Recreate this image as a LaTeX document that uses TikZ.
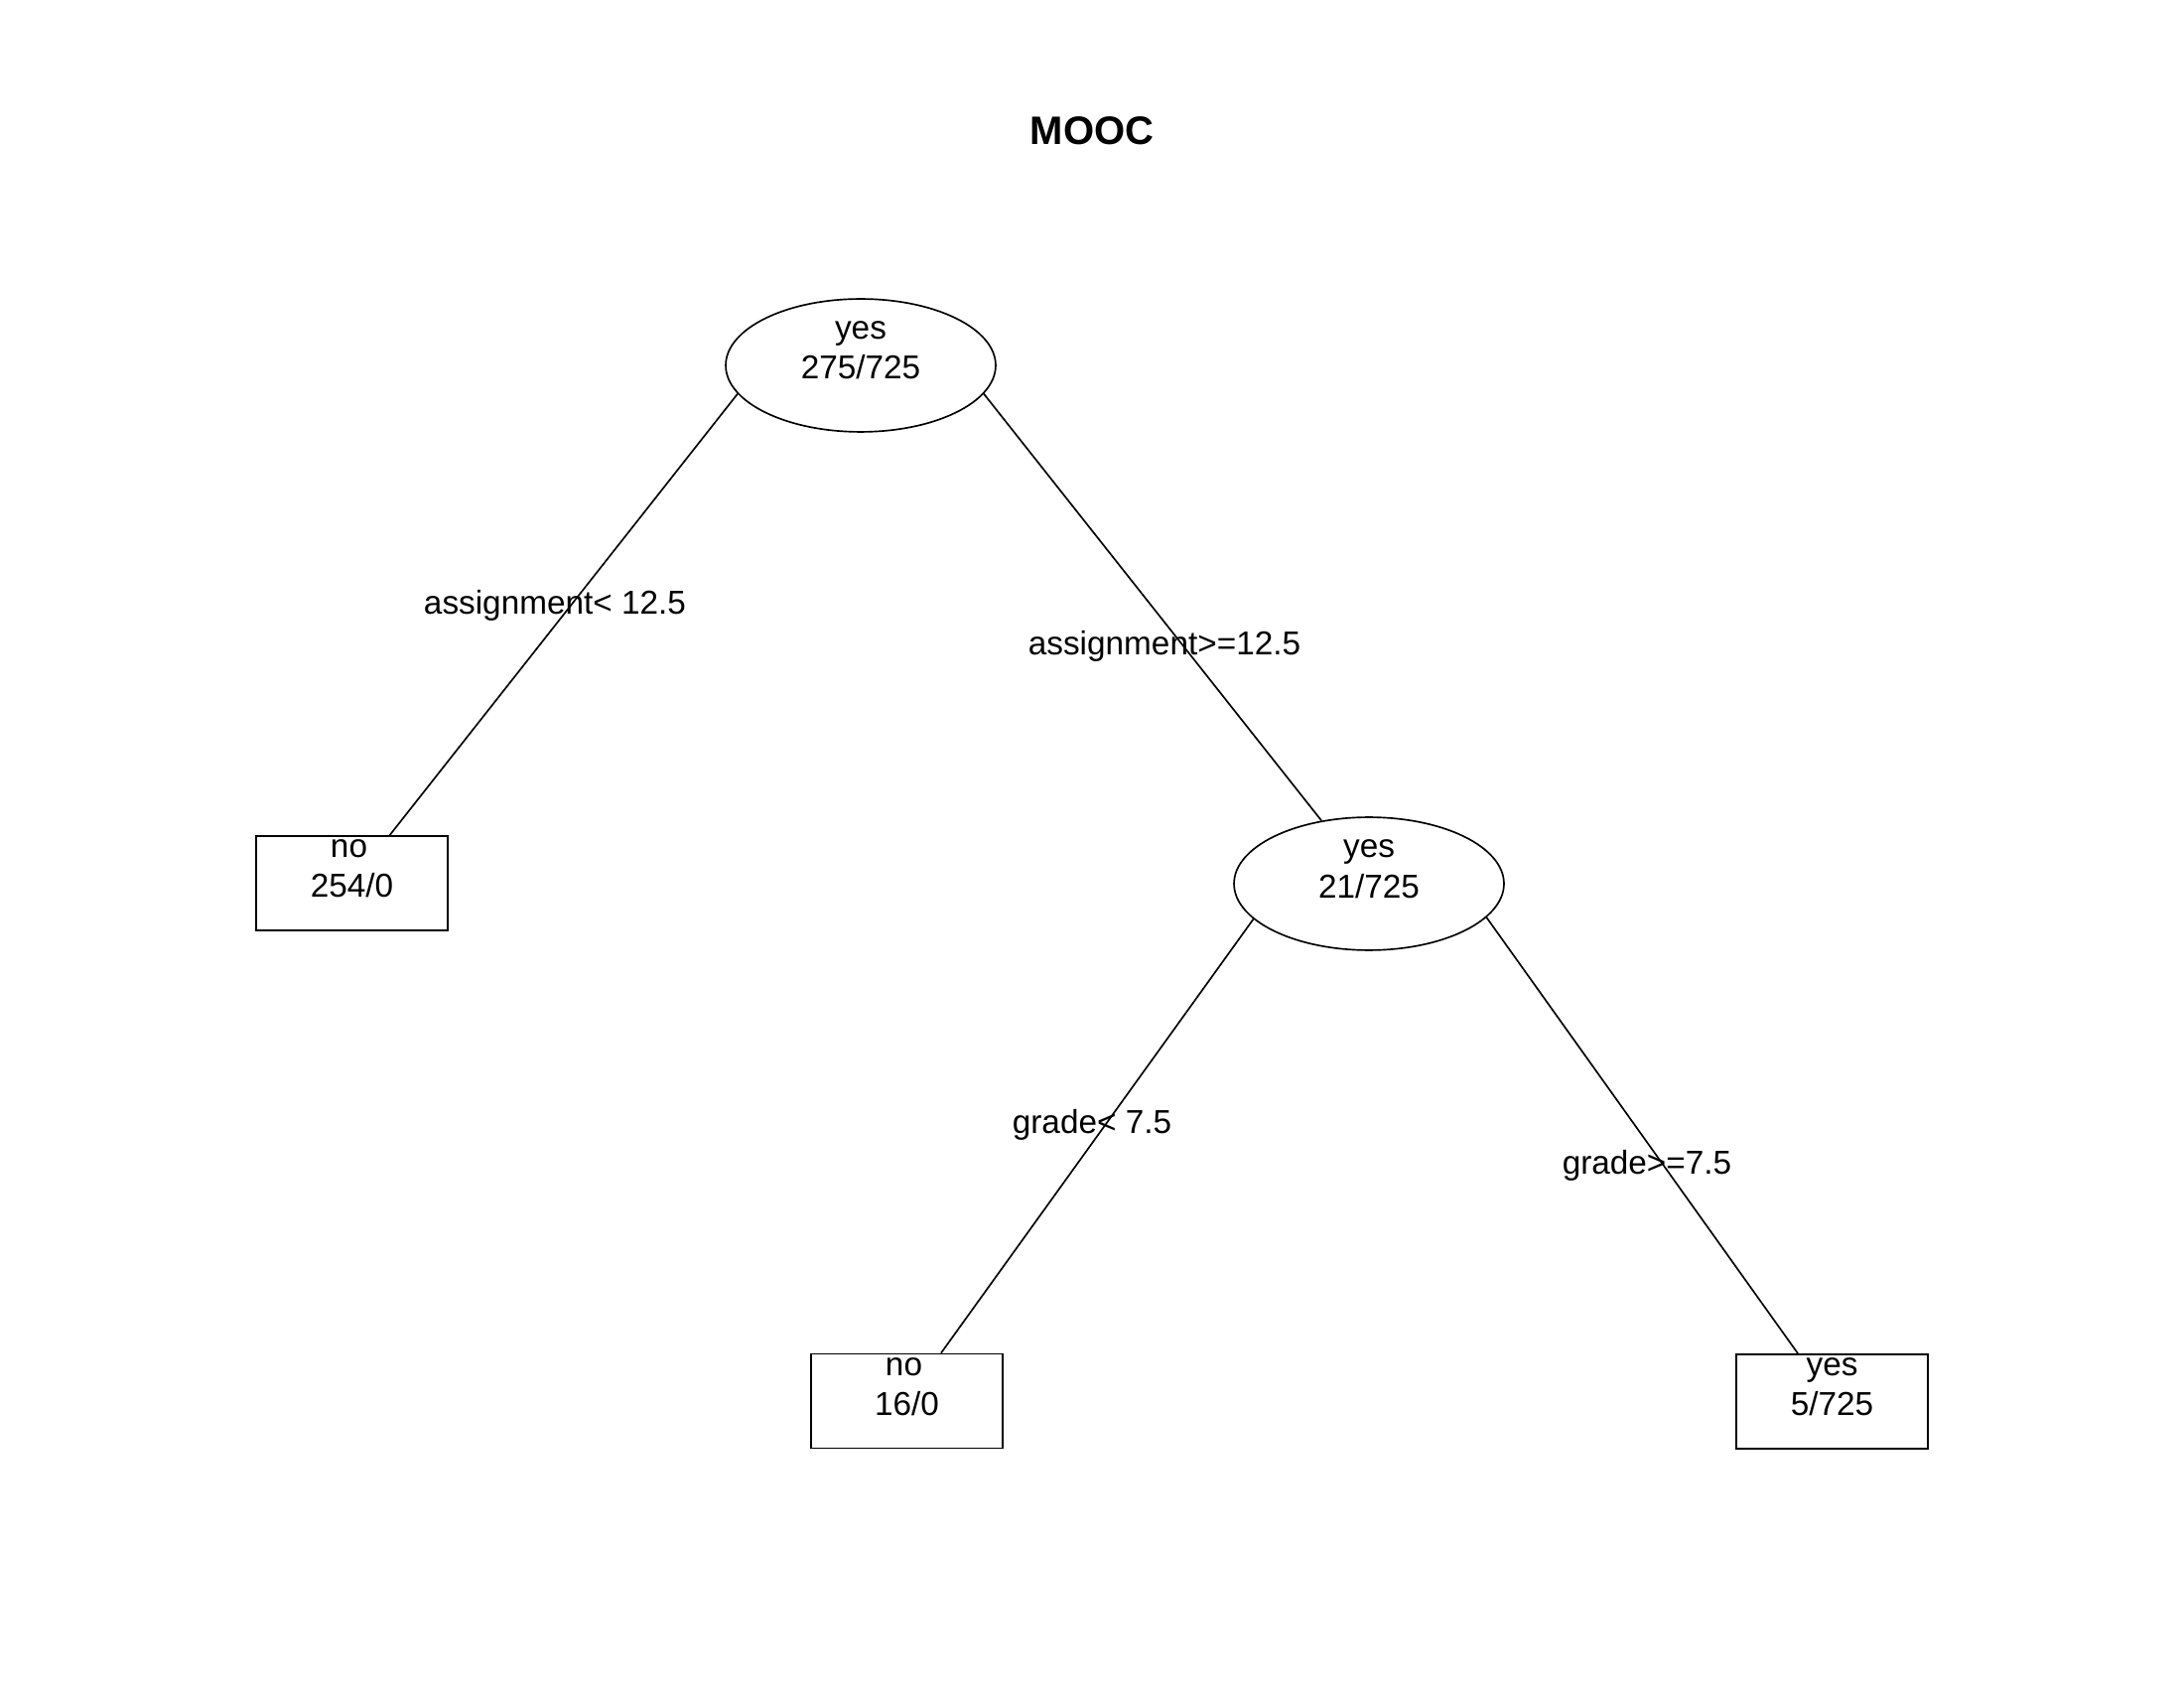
\documentclass[tikz,border=0pt]{standalone}
\usepackage{fontspec}
\setmainfont{Liberation Sans}
\usetikzlibrary{shapes.geometric,calc}
\begin{document}
\begin{tikzpicture}[x=0.36pt,y=-0.36pt,
  every path/.style={line width=0.6pt},
  ovalnode/.style={ellipse,draw,inner sep=0pt,minimum width=97.9pt,minimum height=48.2pt},
  leafnode/.style={rectangle,draw,inner sep=0pt,minimum width=69.5pt,minimum height=34.2pt},
  txt/.style={anchor=base,inner sep=0pt,font=\fontsize{12pt}{14pt}\selectfont},
  ttl/.style={anchor=base,inner sep=0pt,font=\fontsize{14.4pt}{17pt}\selectfont\bfseries}]
\useasboundingbox (0,0) rectangle (2200,1700);
\node[ttl] (title) at (1100,146) {MOOC};
% nodes
\node[ovalnode] (root) at (867,368) {};
\node[leafnode] (nleft) at (354.5,889.5) {};
\node[ovalnode] (n2) at (1379,890) {};
\node[leafnode] (n3) at (913.5,1411) {};
\node[leafnode] (n4) at (1845.5,1411.5) {};
% node texts
\node[txt] (roota) at ($(root)+(0,-26)$) {yes};
\node[txt] (rootb) at ($(root)+(0,14)$) {275/725};
\node[txt] (nlefta) at ($(nleft)+(-3,-26)$) {no};
\node[txt] (nleftb) at ($(nleft)+(0,14)$) {254/0};
\node[txt] (n2a) at ($(n2)+(0,-26)$) {yes};
\node[txt] (n2b) at ($(n2)+(0,14)$) {21/725};
\node[txt] (n3a) at ($(n3)+(-3,-26)$) {no};
\node[txt] (n3b) at ($(n3)+(0,14)$) {16/0};
\node[txt] (n4a) at ($(n4)+(0,-26)$) {yes};
\node[txt] (n4b) at ($(n4)+(0,14)$) {5/725};
% edges
\draw (root.193) -- ([xshift=13.7pt]nleft.north);
\draw (root.347) -- (n2.127);
\draw (n2.197) -- ([xshift=12.4pt]n3.north);
\draw (n2.344) -- ([xshift=-12.4pt]n4.north);
% edge labels
\node[txt] (l1) at (559,619) {assignment< 12.5};
\node[txt] (l2) at (1173,660) {assignment>=12.5};
\node[txt] (l3) at (1100,1141) {grade< 7.5};
\node[txt] (l4) at (1659,1182) {grade>=7.5};
\end{tikzpicture}
\end{document}
